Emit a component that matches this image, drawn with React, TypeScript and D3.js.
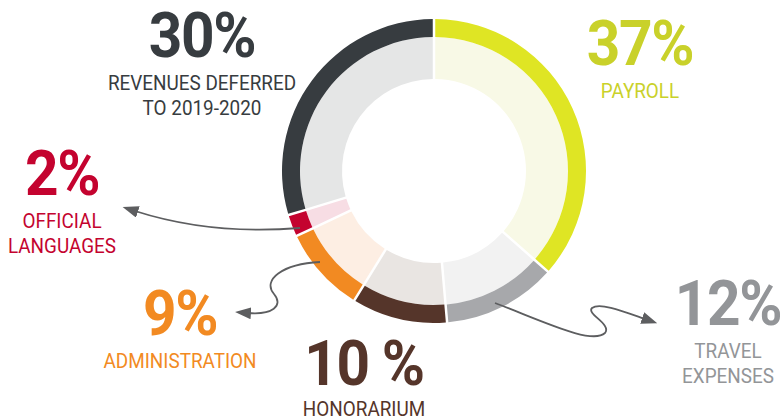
import React from "react";
import * as d3 from "d3";

const categories = ["Payroll", "Travel expenses", "Honorarium", "Administration", "Official languages", "Revenues deferred to 2019-2020"];
const values = [37, 12, 10, 9, 2, 30];
const valueLabels = ["37%", "12%", "10 %", "9%", "2%", "30%"];
const labelLines = [["PAYROLL"], ["TRAVEL", "EXPENSES"], ["HONORARIUM"], ["ADMINISTRATION"], ["OFFICIAL", "LANGUAGES"], ["REVENUES DEFERRED", "TO 2019-2020"]];

const outerColors = ["#dfe524", "#a7a8ab", "#55352a", "#f28a22", "#c4032f", "#373c40"];
const innerColors = ["#f8f9e6", "#f2f2f2", "#e9e5e2", "#fdeee3", "#f7dde4", "#e5e6e6"];
const textColors = ["#c9d12a", "#939598", "#55352a", "#f28a22", "#c4032f", "#373c40"];

// label anchor positions (center x, baseline of big number)
const labelPos = [
  [640, 65],
  [728, 325],
  [364, 385],
  [180, 335],
  [62, 195],
  [202, 57],
];

const W = 783, H = 419;
const cx = 434, cy = 171;
const R0 = 92, R1 = 134, R2 = 152;

const arrows = [
  "M300,228 C 240,233 185,227 135,211",
  "M320,262 C 282,264 262,280 274,294 C 284,306 272,315 248,313",
  "M495,303 C 545,322 592,345 605,333 C 612,324 586,314 592,308 C 600,302 625,312 645,319",
];

const font = "Roboto, 'DejaVu Sans Condensed', sans-serif";
const SXN = 0.93;
const SXL = 0.9;

export default function App() {
  const pie = d3.pie<number>().sort(null).value((d) => d).padAngle(0.025);
  const arcs = pie(values);
  const outerArc = d3.arc<d3.PieArcDatum<number>>().innerRadius(R1).outerRadius(R2).padRadius(100);
  const innerArc = d3.arc<d3.PieArcDatum<number>>().innerRadius(R0).outerRadius(R1).padRadius(100);
  return (
    <svg width={W} height={H} style={{ position: "absolute", left: 0, top: 0, background: "#fff" }}>
      <defs>
        <marker id="ah" viewBox="0 0 16 12" refX="3" refY="6" markerWidth="16" markerHeight="12" orient="auto" markerUnits="userSpaceOnUse">
          <path d="M0,0 L16,6 L0,12 Z" fill="#5d5e60" />
        </marker>
      </defs>
      <g transform={`translate(${cx},${cy})`}>
        {arcs.map((a, i) => (
          <g key={categories[i]}>
            <path d={innerArc(a) || ""} fill={innerColors[i]} />
            <path d={outerArc(a) || ""} fill={outerColors[i]} />
          </g>
        ))}
      </g>
      {arrows.map((d, i) => (
        <path key={i} d={d} fill="none" stroke="#5d5e60" strokeWidth={1.8} markerEnd="url(#ah)" />
      ))}
      {valueLabels.map((v, i) => (
        <g key={v} fill={textColors[i]} fontFamily={font} textAnchor="middle">
          <text transform={`translate(${labelPos[i][0]},${labelPos[i][1]}) scale(${SXN},1)`} fontSize={63} fontWeight="bold" letterSpacing={-1.5}>{v}</text>
          {labelLines[i].map((l, j) => (
            <text key={l} transform={`translate(${labelPos[i][0]},${labelPos[i][1] + (i === 2 ? 31 : 33) + j * 25}) scale(${SXL},1)`} fontSize={21}>{l}</text>
          ))}
        </g>
      ))}
    </svg>
  );
}
